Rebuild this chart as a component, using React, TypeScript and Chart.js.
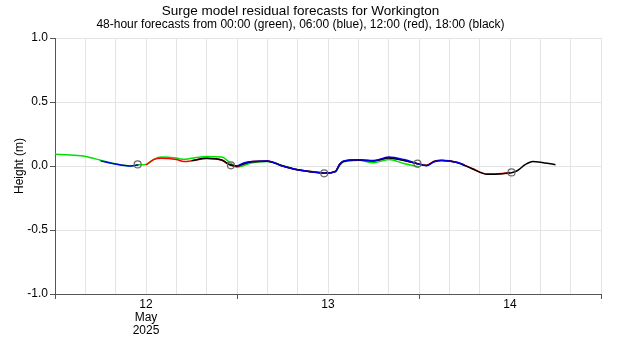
import React, { useEffect, useRef } from "react";
import { Chart, registerables } from "chart.js";

Chart.register(...registerables);

// hours since 12 May 2025 00:00
const greenHours = [0, 2, 4, 6, 8, 10, 11, 12, 13, 14, 16, 17, 18, 20, 22, 23, 24, 26, 28, 30, 32, 34, 35.5, 37, 37.5, 38, 40, 42, 44, 46, 48];
const greenValues = [0.092, 0.085, 0.075, 0.045, 0.015, 0.0, 0.01, 0.012, 0.05, 0.07, 0.062, 0.052, 0.06, 0.075, 0.07, 0.03, -0.008, 0.025, 0.035, 0.005, -0.03, -0.045, -0.055, -0.045, 0.0, 0.03, 0.045, 0.026, 0.05, 0.02, -0.008];

const blueHours = [6, 8, 10, 11, 12, 13, 14, 16, 17, 18, 20, 22, 23, 24, 25, 26, 28, 30, 32, 34, 35.5, 37, 37.5, 38, 40, 42, 44, 46, 47.8, 49, 50, 51, 53, 54];
const blueValues = [0.04, 0.015, 0.0, 0.01, null, null, null, null, null, null, null, null, null, 0.0, 0.025, 0.035, 0.04, 0.0, -0.03, -0.047, -0.057, -0.042, 0.01, 0.037, 0.048, 0.042, 0.07, 0.05, 0.018, 0.002, 0.032, 0.042, 0.028, 0.008];

const redHours = [12, 13, 14, 16, 17, 18, 20, 22, 23, 24, 25, 26, 28, 30, 32, 34, 35.5, 37, 37.5, 38, 40, 42, 44, 46, 47.8, 49, 50, 51, 53, 55, 57, 59, 60];
const redValues = [0.008, 0.05, 0.06, 0.05, 0.035, 0.04, 0.058, 0.045, 0.01, -0.003, 0.02, 0.035, 0.04, 0.0, -0.03, -0.045, -0.055, -0.04, 0.01, 0.035, 0.047, 0.04, 0.065, 0.045, 0.018, 0.005, 0.038, 0.045, 0.03, -0.02, -0.063, -0.058, -0.05];

const blackHours = [18, 20, 22, 23, 24, 25, 26, 28, 30, 32, 34, 35.5, 37, 37.5, 38, 40, 42, 44, 46, 47.8, 49, 50, 51, 53, 55, 57, 59, 60.2, 61, 62, 63, 64, 66];
const blackValues = [0.042, 0.06, 0.047, 0.012, 0.0, 0.02, 0.033, 0.038, 0.0, -0.03, -0.046, -0.056, -0.042, 0.01, 0.035, 0.046, 0.04, 0.062, 0.043, 0.018, 0.004, 0.035, 0.043, 0.028, -0.022, -0.065, -0.06, -0.052, -0.035, 0.01, 0.035, 0.03, 0.01];

const highTideHours = [10.9, 23.2, 35.5, 47.8, 60.2];
const highTideValues = [0.012, 0.005, -0.057, 0.018, -0.05];

const dayTickHours = [12, 36, 60];
const dayTickLabels = [["12", "May", "2025"], "13", "14"];

const titleText = "Surge model residual forecasts for Workington";
const subtitleText = "48-hour forecasts from 00:00 (green), 06:00 (blue), 12:00 (red), 18:00 (black)";

const toPoints = (xs: number[], ys: (number | null)[]) => xs.map((x, i) => ({ x, y: ys[i] }));

export default function App() {
  const ref = useRef<HTMLCanvasElement | null>(null);
  useEffect(() => {
    document.body.style.margin = "0";
    const canvas = ref.current;
    if (!canvas) return;
    const font = "'Liberation Sans', Arial, sans-serif";
    const line = (label: string, color: string, xs: number[], ys: (number | null)[]) => ({
      label,
      data: toPoints(xs, ys),
      borderColor: color,
      backgroundColor: color,
      borderWidth: 1.5,
      pointRadius: 0,
      spanGaps: false,
      cubicInterpolationMode: "monotone" as const,
    });
    const chart = new Chart(canvas, {
      type: "line",
      data: {
        datasets: [
          {
            label: "High water",
            data: toPoints(highTideHours, highTideValues),
            showLine: false,
            pointRadius: 3.5,
            pointBorderWidth: 1.2,
            pointBorderColor: "#666",
            pointBackgroundColor: "rgba(0,0,0,0)",
            borderColor: "#666",
          } as any,
          line("06:00", "#0000dd", blueHours, blueValues),
          line("18:00", "#000000", blackHours, blackValues),
          line("12:00", "#ff0000", redHours, redValues),
          line("00:00", "#00e000", greenHours, greenValues),
        ],
      },
      options: {
        responsive: false,
        animation: false,
        devicePixelRatio: 1,
        layout: { padding: { left: 0, right: 19, top: 0, bottom: 0 } },
        plugins: {
          legend: { display: false },
          tooltip: { enabled: false },
          title: {
            display: true,
            text: titleText,
            color: "#000",
            font: { family: font, size: 13.5, weight: "normal", lineHeight: 1.0 },
            padding: { top: 5, bottom: 0 },
          },
          subtitle: {
            display: true,
            text: subtitleText,
            color: "#000",
            font: { family: font, size: 12, weight: "normal", lineHeight: 1.0 },
            padding: { top: 0, bottom: 7.5 },
          },
        },
        scales: {
          x: {
            type: "linear",
            min: 0,
            max: 72,
            afterFit: (s: any) => {
              s.height = 56;
            },
            ticks: {
              stepSize: 4,
              autoSkip: false,
              maxRotation: 0,
              color: "#000",
              padding: -1,
              font: { family: font, size: 12, lineHeight: 1.1 },
              callback: (v: any) => {
                const i = dayTickHours.indexOf(Number(v));
                return i >= 0 ? dayTickLabels[i] : "";
              },
            },
            grid: {
              color: "#e4e4e4",
              lineWidth: 1,
              tickLength: 5,
              tickColor: (ctx: any) => (ctx.tick && ctx.tick.value % 24 === 0 ? "#555" : "rgba(0,0,0,0)"),
            },
            border: { color: "#555", width: 1 },
          },
          y: {
            type: "linear",
            min: -1,
            max: 1,
            afterFit: (s: any) => {
              s.width = 55;
            },
            ticks: {
              stepSize: 0.5,
              color: "#000",
              padding: 2,
              font: { family: font, size: 12 },
              callback: (v: any) => Number(v).toFixed(1),
            },
            title: {
              display: true,
              text: "Height (m)",
              color: "#000",
              font: { family: font, size: 12 },
              padding: { top: 12, bottom: 0 },
            },
            grid: {
              color: "#e4e4e4",
              lineWidth: 1,
              tickLength: 5,
              tickColor: "#555",
            },
            border: { color: "#555", width: 1 },
          },
        },
      },
    });
    return () => chart.destroy();
  }, []);
  return (
    <div style={{ width: 620, height: 350 }}>
      <canvas ref={ref} width={620} height={350} />
    </div>
  );
}
